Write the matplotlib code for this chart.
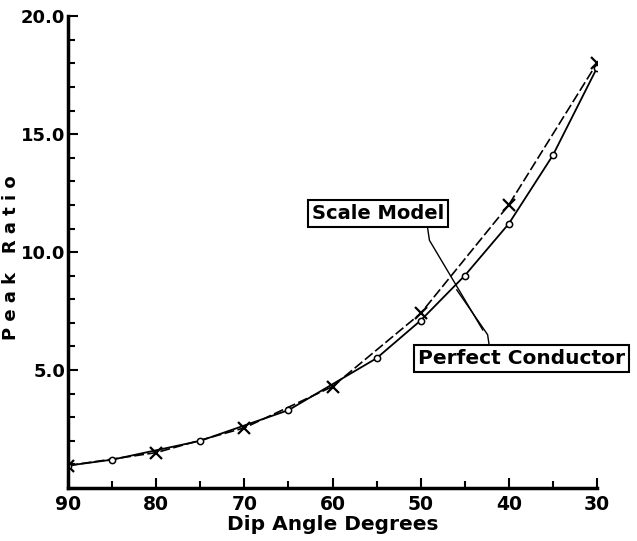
import matplotlib.pyplot as plt
from matplotlib.ticker import MultipleLocator

# scale model (crosses) and perfect conductor (circles)
model_dip = [90, 80, 70, 60, 50, 40, 30]
model_ratio = [0.95, 1.5, 2.55, 4.3, 7.4, 12.0, 18.0]
cond_dip = [90, 85, 75, 65, 55, 50, 45, 40, 35, 30]
cond_ratio = [0.95, 1.2, 2.0, 3.3, 5.5, 7.1, 9.0, 11.2, 14.1, 17.8]

x_ticks = [90, 80, 70, 60, 50, 40, 30]
y_ticks = [5.0, 10.0, 15.0, 20.0]

fig = plt.figure(figsize=(6.37, 5.41), dpi=100)
ax = fig.add_axes([0.107, 0.098, 0.830, 0.872])

ax.plot(model_dip, model_ratio, color='black', lw=1.2, ls=(0, (6, 2)),
        marker='x', ms=9, mew=1.6)
ax.plot(cond_dip, cond_ratio, color='black', lw=1.3,
        marker='o', ms=4.5, mfc='white', mew=1.1)

ax.set_xlim(90, 30)
ax.set_ylim(0, 20)
ax.set_xticks(x_ticks)
ax.set_yticks(y_ticks)
ax.set_yticklabels([f'{v:.1f}' for v in y_ticks])
ax.xaxis.set_minor_locator(MultipleLocator(5))
ax.yaxis.set_minor_locator(MultipleLocator(1))
ax.tick_params(which='both', direction='in', width=1.5, labelsize=13.5)
ax.tick_params(axis='y', labelsize=13, pad=2)
ax.tick_params(axis='x', pad=5)
ax.tick_params(which='major', length=7)
ax.tick_params(which='minor', length=5)
for lab in ax.get_xticklabels() + ax.get_yticklabels():
    lab.set_fontweight('bold')

for s in ['top', 'right']:
    ax.spines[s].set_visible(False)
for s in ['left', 'bottom']:
    ax.spines[s].set_linewidth(2.5)

ax.set_xlabel('Dip Angle Degrees', fontsize=14.5, fontweight='bold', labelpad=1)
fig.text(11 / 637, 0.523, 'P e a k   R a t i o', fontsize=13, fontweight='bold',
         rotation=90, ha='center', va='center')

# labels with leader lines
box = dict(boxstyle='square,pad=0.2', fc='white', ec='black', lw=1.5)
ax.text(54.85, 11.65, 'Scale Model', fontsize=14, fontweight='bold',
        ha='center', va='center', bbox=box)
ax.plot([49.2, 49.0, 42.95], [11.0, 10.5, 6.7], color='black', lw=1)
ax.text(38.6, 5.47, 'Perfect Conductor', fontsize=14.5, fontweight='bold',
        ha='center', va='center', bbox=box, clip_on=False)
ax.plot([42.2, 42.4, 45.9], [6.0, 6.5, 8.4], color='black', lw=1)

fig.savefig('out.png', dpi=100)
